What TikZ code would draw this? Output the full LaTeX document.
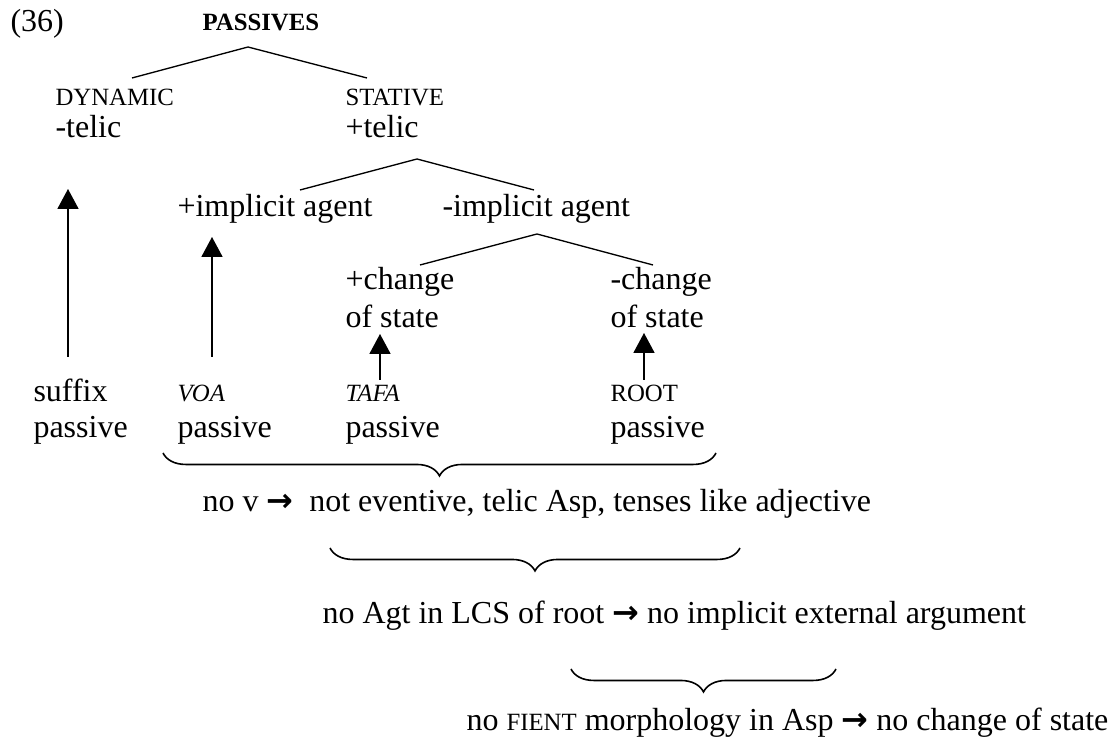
\documentclass[tikz,border=0pt]{standalone}
\usepackage{fontspec}
\setmainfont{Liberation Serif}
\newfontfamily\arrowfont{DejaVu Sans}
\usetikzlibrary{arrows.meta,decorations.pathreplacing}
\newcommand{\thento}{{\arrowfont\bfseries →}}
\newcommand{\smallcaps}[1]{{\fontsize{9.3}{11}\selectfont #1}}
\begin{document}
\begin{tikzpicture}[
        x=0.375pt, y=-0.375pt,
        every node/.style={inner sep=0pt, anchor=base west, font=\fontsize{12}{14}\selectfont},
        small/.style={font=\fontsize{9.3}{11}\selectfont},
        branch/.style={line width=0.5pt},
        uparrow/.style={line width=0.6pt, -{Triangle[width=7.9pt,length=7.5pt]}},
        curly/.style={line width=0.6pt, decorate, decoration={brace, mirror, amplitude=8.6pt}}
      ]
      \useasboundingbox (0,0) rectangle (1119,743);
      \node (num) at (10,32) {(36)};
      \node[small] (passives) at (202,31) {\bfseries PASSIVES};
      \node[small] (dynamic) at (55,106) {DYNAMIC};
      \node (dyntelic) at (55,138) {-telic};
      \node[small] (stative) at (345,106) {STATIVE};
      \node (stattelic) at (345,138) {+telic};
      \node (impl) at (177,217) {+implicit agent};
      \node (noimpl) at (442,217) {-implicit agent};
      \node (chg) at (345,290) {+change};
      \node (chgstate) at (345,328) {of state};
      \node (nochg) at (610,290) {-change};
      \node (nochgstate) at (610,328) {of state};
      \node (suffix) at (33,402) {suffix};
      \node (suffixpas) at (33,438) {passive};
      \node[small] (voa) at (177,402) {\itshape VOA};
      \node (voapas) at (177,438) {passive};
      \node[small] (tafa) at (345,402) {\itshape TAFA};
      \node (tafapas) at (345,438) {passive};
      \node[small] (root) at (610,402) {ROOT};
      \node (rootpas) at (610,438) {passive};
      \node (nov) at (202,512) {no v \thento\ \ not eventive, telic Asp, tenses like adjective};
      \node (noagt) at (322,624) {no Agt in LCS of root \thento\ no implicit external argument};
      \node (nofient) at (466,731) {no \smallcaps{FIENT} morphology in Asp \thento\ no change of state};
      % branch points
      \coordinate (v1) at (248,47);   \coordinate (dynend) at (132,78);  \coordinate (statend) at (367,78);
      \coordinate (v2) at (417,159);  \coordinate (implend) at (300,190); \coordinate (noimplend) at (534,190);
      \coordinate (v3) at (537,234);  \coordinate (chgend) at (420,265);  \coordinate (nochgend) at (653,265);
      \draw[branch] (dynend) -- (v1) -- (statend);
      \draw[branch] (implend) -- (v2) -- (noimplend);
      \draw[branch] (chgend) -- (v3) -- (nochgend);
      % arrows up
      \coordinate (a1) at (68,357);  \coordinate (t1) at (68,189);
      \coordinate (a2) at (212,357); \coordinate (t2) at (212,237);
      \coordinate (a3) at (380,380); \coordinate (t3) at (380,334);
      \coordinate (a4) at (644,380); \coordinate (t4) at (644,333);
      \draw[uparrow] (a1) -- (t1);
      \draw[uparrow] (a2) -- (t2);
      \draw[uparrow] (a3) -- (t3);
      \draw[uparrow] (a4) -- (t4);
      % braces
      \coordinate (br1l) at (163,453); \coordinate (br1r) at (716,453);
      \coordinate (br2l) at (330,548); \coordinate (br2r) at (740,548);
      \coordinate (br3l) at (571,669); \coordinate (br3r) at (836,669);
      \draw[curly] (br1l) -- (br1r);
      \draw[curly] (br2l) -- (br2r);
      \draw[curly] (br3l) -- (br3r);
      \end{tikzpicture}
\end{document}
